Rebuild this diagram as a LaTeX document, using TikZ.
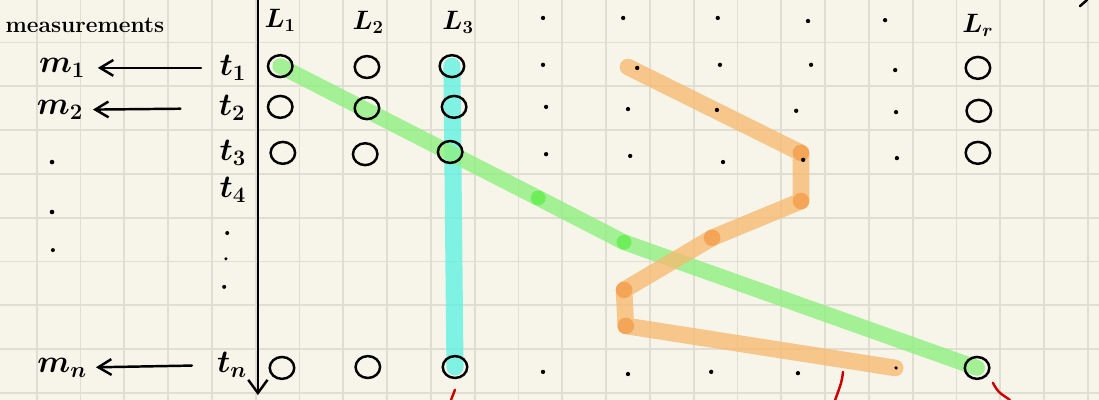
\documentclass[tikz,border=0pt]{standalone}
\usepackage{amsmath}
\usepackage{tikz}
\usetikzlibrary{arrows.meta,calc,positioning,shapes.geometric}
\definecolor{paper}{RGB}{247,245,234}
\definecolor{gridc}{RGB}{224,222,210}
\definecolor{hlgreen}{RGB}{140,240,125}
\definecolor{ptgreen}{RGB}{110,238,90}
\definecolor{hlcyan}{RGB}{95,242,226}
\definecolor{hlorange}{RGB}{246,186,112}
\definecolor{ptorange}{RGB}{245,160,80}
\definecolor{inkred}{RGB}{205,0,0}

\begin{document}
\begin{tikzpicture}[
  ring/.style={draw,ellipse,line width=1.6pt,minimum width=0.56cm,minimum height=0.5cm,inner sep=0pt},
  lab/.style={inner sep=0pt,font=\fontsize{20}{24}\selectfont\boldmath},
  toplab/.style={inner sep=0pt,font=\fontsize{18}{22}\selectfont\boldmath},
  hl/.style={line width=0.36cm,line cap=round,line join=round,opacity=0.78},
  ink/.style={line width=1.6pt,line cap=round}
]
\useasboundingbox (-0.838,-8.162) rectangle (24.254,0.970);
\fill[paper] (-0.838,-8.162) rectangle (24.254,0.970);
\draw[gridc,line width=1.2pt] (-0.838,-8.162) grid (24.254,0.970);

\coordinate (p11) at (5.56,-0.54);
\coordinate (p13) at (9.48,-0.54);
\coordinate (pn3) at (9.55,-7.41);
\coordinate (pnr) at (21.47,-7.43);
\coordinate (g1) at (11.45,-3.55);
\coordinate (g2) at (13.41,-4.56);
\coordinate (o0) at (13.50,-0.56);
\coordinate (o1) at (17.45,-2.52);
\coordinate (o2) at (17.45,-3.62);
\coordinate (o3) at (15.42,-4.46);
\coordinate (o4) at (13.41,-5.65);
\coordinate (o5) at (13.45,-6.47);
\coordinate (o6) at (19.60,-7.43);

\draw[hl,hlcyan,line width=0.39cm] (p13) -- (pn3);
\draw[hl,hlgreen] (p11) -- (g1) -- (g2) -- (pnr);
\draw[hl,hlorange,line width=0.38cm] (o0) -- (o1) -- (o2) -- (o3) -- (o4) -- (o5) -- (o6);
\fill[ptgreen] (g1) circle (0.17) (g2) circle (0.17);
\fill[ptorange,opacity=0.85] (o1) circle (0.19) (o2) circle (0.19) (o3) circle (0.19)
  (o4) circle (0.19) (o5) circle (0.19);

\coordinate (top) at (5.05,0.97);
\coordinate (bot) at (5.05,-8.05);
\draw[ink,-{Straight Barb[length=3mm,width=4.4mm]}] (top) -- (bot);

\node[inner sep=0pt,font=\fontsize{14.8}{18}\selectfont\bfseries] (meas) at (1.10,0.40) {measurements};
\node[toplab] (L1) at (5.56,0.51) {$L_1$};
\node[toplab] (L2) at (7.57,0.47) {$L_2$};
\node[toplab] (L3) at (9.62,0.47) {$L_3$};
\node[toplab] (Lr) at (21.49,0.40) {$L_r$};

\node[lab] (t1) at (4.48,-0.58) {$t_1$};
\node[lab] (t2) at (4.46,-1.50) {$t_2$};
\node[lab] (t3) at (4.48,-2.52) {$t_3$};
\node[lab] (t4) at (4.48,-3.37) {$t_4$};
\node[lab] (tn) at (4.46,-7.36) {$t_n$};
\node[lab] (m1) at (0.58,-0.58) {$m_1$};
\node[lab] (m2) at (0.53,-1.54) {$m_2$};
\node[lab] (mn) at (0.58,-7.43) {$m_n$};
\draw[ink,-{Straight Barb[length=3mm,width=3.6mm]},shorten <=0.42cm,shorten >=0.28cm] (t1) -- (m1);
\draw[ink,-{Straight Barb[length=3mm,width=3.6mm]},shorten <=0.87cm,shorten >=0.22cm] (t2) -- (m2);
\draw[ink,-{Straight Barb[length=3mm,width=3.6mm]},shorten <=0.57cm,shorten >=0.2cm] (tn) -- (mn);

\node[ring] (c11) at (p11) {};
\node[ring] (c21) at (5.56,-1.47) {};
\node[ring] (c31) at (5.62,-2.52) {};
\node[ring] (cn1) at (5.60,-7.43) {};
\node[ring] (c12) at (7.54,-0.56) {};
\node[ring] (c22) at (7.54,-1.50) {};
\node[ring] (c32) at (7.50,-2.55) {};
\node[ring] (cn2) at (7.56,-7.41) {};
\node[ring] (c13) at (p13) {};
\node[ring] (c23) at (9.53,-1.47) {};
\node[ring] (c33) at (9.44,-2.50) {};
\node[ring] (cn3) at (pn3) {};
\node[ring] (c1r) at (21.49,-0.58) {};
\node[ring] (c2r) at (21.51,-1.56) {};
\node[ring] (c3r) at (21.49,-2.52) {};
\node[ring] (cnr) at (pnr) {};

\fill (11.56,0.56) circle (1.4pt) (13.39,0.56) circle (1.4pt) (15.55,0.56) circle (1.4pt)
  (17.61,0.49) circle (1.4pt) (19.37,0.51) circle (1.4pt);
\fill (11.56,-0.51) circle (1.4pt) (13.71,-0.58) circle (1.4pt) (15.60,-0.51) circle (1.4pt)
  (17.68,-0.51) circle (1.4pt) (19.60,-0.63) circle (1.4pt);
\fill (11.63,-1.47) circle (1.4pt) (13.50,-1.52) circle (1.4pt) (15.53,-1.54) circle (1.4pt)
  (17.34,-1.56) circle (1.4pt) (19.62,-1.59) circle (1.4pt);
\fill (11.63,-2.55) circle (1.4pt) (13.55,-2.59) circle (1.4pt) (15.67,-2.73) circle (1.4pt)
  (17.50,-2.68) circle (1.4pt) (19.64,-2.64) circle (1.4pt);
\fill (11.56,-7.52) circle (1.4pt) (13.50,-7.57) circle (1.4pt) (15.40,-7.52) circle (1.4pt)
  (17.38,-7.55) circle (1.4pt) (19.62,-7.43) circle (1.2pt);
\fill (0.35,-2.73) circle (1.5pt) (0.35,-3.87) circle (1.5pt) (0.37,-4.74) circle (1.3pt);
\fill (4.35,-4.35) circle (1.3pt) (4.32,-4.94) circle (1.1pt) (4.28,-5.58) circle (1.3pt);

\draw[ink] (23.82,0.83) -- (23.98,0.97);
\draw[ink,inkred] (9.55,-7.93) -- (9.46,-8.16);
\draw[ink,inkred] (18.41,-7.52) .. controls (18.38,-7.75) .. (18.23,-8.16);
\draw[ink,inkred] (21.83,-7.77) .. controls (21.95,-7.98) .. (22.22,-8.16);
\end{tikzpicture}
\end{document}
